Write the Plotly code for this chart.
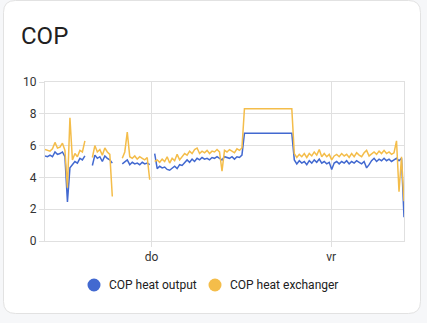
import pandas as pd
import plotly.graph_objects as go

# --- data: COP readings, one sample every 20 minutes (None = no data) ---
START = "2024-01-03 09:45"

cop_heat_output = [
    5.35, 5.3, 5.4, 5.3, 5.6, 5.45, 5.5, 5.6, 5.3, 2.45, 4.6, 4.8, 5.0, 4.9, 5.2, 5.1, 5.35,
    None, None,
    4.75, 5.4, 5.2, 5.3, 5.0, 5.35, 5.2, 5.1, 4.9,
    None, None, None,
    4.85, 5.0, 5.1, 4.8, 4.95, 4.85, 4.9, 4.8, 4.95, 4.85, 4.9, 4.8,
    None,
    5.5, 4.55, 4.7, 4.6, 4.65, 4.5, 4.45, 4.6, 4.7, 4.55, 4.8, 4.75, 4.95, 5.1, 4.95, 5.15,
    5.0, 5.2, 5.1, 5.25, 5.15, 5.2, 5.1, 5.25, 5.2, 5.3, 5.2, 5.1, 5.3, 5.25, 5.2, 5.3,
    5.15, 5.3, 5.25, 5.4,
    6.77, 6.77, 6.77, 6.77, 6.77, 6.77, 6.77, 6.77, 6.77, 6.77,
    6.77, 6.77, 6.77, 6.77, 6.77, 6.77, 6.77, 6.77, 6.77, 6.77,
    5.1, 4.85, 5.05, 4.9, 5.0, 4.8, 5.05, 4.9, 5.1, 4.95, 5.15, 4.9, 5.0, 4.85, 4.95, 4.5,
    4.9, 5.0, 4.85, 5.0, 4.9, 5.05, 4.85, 5.0, 4.9, 5.05, 4.95, 4.85, 5.0, 4.6, 4.8, 5.05,
    5.2, 5.0, 5.15, 5.05, 5.2, 5.05, 5.15, 5.0, 5.1, 5.2, 5.05, 5.2, 1.5,
]

cop_heat_exchanger = [
    5.75, 5.7, 5.65, 5.8, 6.2, 5.85, 5.9, 6.15, 5.7, 3.35, 7.75, 5.1, 5.5, 5.3, 5.7, 5.6, 6.3,
    None, None,
    5.25, 6.0, 5.6, 5.75, 5.4, 5.85, 5.6, 5.45, 2.8,
    None, None, None,
    5.2, 5.6, 6.85, 5.3, 5.2, 5.35, 5.15, 5.3, 5.2, 5.1, 5.25, 3.85,
    None,
    5.0, 5.1, 4.95, 5.15, 5.0, 5.3, 4.9, 5.2, 5.05, 5.45, 5.1, 5.3, 5.5, 5.4, 5.65, 5.5,
    5.75, 5.85, 5.5, 5.65, 5.55, 5.7, 5.5, 5.65, 5.6, 5.75, 5.6, 4.4, 5.7, 5.6, 5.75, 5.65,
    5.55, 5.8, 5.7, 5.85,
    8.32, 8.32, 8.32, 8.32, 8.32, 8.32, 8.32, 8.32, 8.32, 8.32,
    8.32, 8.32, 8.32, 8.32, 8.32, 8.32, 8.32, 8.32, 8.32, 8.32,
    5.5, 5.25, 5.45, 5.3, 5.5, 5.25, 5.5, 5.35, 5.6, 5.4, 5.75, 5.3, 5.5, 5.3, 5.45, 5.1,
    5.35, 5.45, 5.3, 5.5, 5.35, 5.45, 5.25, 5.5, 5.3, 5.55, 5.4, 5.3, 5.55, 5.7, 5.35, 5.5,
    5.6, 5.45, 5.65, 5.5, 5.7, 5.5, 5.6, 5.45, 5.55, 6.3, 3.1, 5.3, 2.5,
]

series_names = ["COP heat output", "COP heat exchanger"]
series_colors = ["#4269d0", "#f4bd4a"]

tick_dates = ["2024-01-04", "2024-01-05"]
tick_labels = ["do", "vr"]
y_ticks = [0, 2, 4, 6, 8, 10]

times = pd.date_range(START, periods=len(cop_heat_output), freq="20min")

# --- figure geometry (pixels) ---
W, H = 427, 323
ML, MR, MT, MB = 45, 23, 82, 82
PW, PH = W - ML - MR, H - MT - MB


def px_x(x):
    return (x - ML) / PW


def px_y(y):
    return (H - MB - y) / PH


fig = go.Figure()

for vals, name, color in zip([cop_heat_output, cop_heat_exchanger], series_names, series_colors):
    fig.add_trace(go.Scatter(
        x=times, y=vals, mode="lines", name=name,
        line=dict(color=color, width=1.5),
        connectgaps=False, showlegend=False, hoverinfo="skip",
    ))

# rounded card behind the chart
x0, x1 = 3.5, 420.5
y0, y1 = 0.5, 313.5
r = 12
pts = [
    ("M", x0 + r, y0), ("L", x1 - r, y0), ("Q", x1, y0, x1, y0 + r),
    ("L", x1, y1 - r), ("Q", x1, y1, x1 - r, y1),
    ("L", x0 + r, y1), ("Q", x0, y1, x0, y1 - r),
    ("L", x0, y0 + r), ("Q", x0, y0, x0 + r, y0),
]
path = ""
for p in pts:
    cmd, coords = p[0], p[1:]
    pairs = [f"{px_x(coords[i]):.5f},{px_y(coords[i + 1]):.5f}" for i in range(0, len(coords), 2)]
    path += cmd + " " + " ".join(pairs) + " "
path += "Z"

fig.add_shape(type="path", path=path, xref="paper", yref="paper",
              fillcolor="white", line=dict(color="#e2e2e2", width=1), layer="below")

fig.add_annotation(
    text="COP", x=px_x(19), y=px_y(36.5), xref="paper", yref="paper",
    xanchor="left", yanchor="middle", showarrow=False,
    font=dict(family="Roboto", size=24, color="#212121"),
)

# legend: round dot followed by the series name
legend_dot_x = [94, 215]
legend_y = 285
dot_r = 6.5
for cx, name, color in zip(legend_dot_x, series_names, series_colors):
    fig.add_shape(
        type="circle", xref="paper", yref="paper",
        x0=px_x(cx - dot_r), x1=px_x(cx + dot_r),
        y0=px_y(legend_y + dot_r), y1=px_y(legend_y - dot_r),
        fillcolor=color, line=dict(width=0),
    )
    fig.add_annotation(
        text=name, x=px_x(cx + 13), y=px_y(legend_y - 0.5), xref="paper", yref="paper",
        xanchor="left", yanchor="middle", showarrow=False,
        font=dict(family="Roboto", size=12, color="#212121"),
    )

grid = "#e0e0e0"
fig.update_layout(
    width=W, height=H,
    margin=dict(l=ML, r=MR, t=MT, b=MB, pad=0),
    paper_bgcolor="#f6f7f9",
    plot_bgcolor="white",
    font=dict(family="Roboto", size=12, color="#333333"),
    showlegend=False,
    xaxis=dict(
        range=[times[0], times[-1]],
        tickvals=pd.to_datetime(tick_dates), ticktext=tick_labels,
        showgrid=True, gridcolor=grid, gridwidth=1,
        ticks="outside", ticklen=5, tickcolor=grid,
        showline=True, linecolor=grid, mirror=True,
        zeroline=False, tickfont=dict(size=12, color="#333333"),
    ),
    yaxis=dict(
        range=[0, 10], tickvals=y_ticks,
        showgrid=True, gridcolor=grid, gridwidth=1,
        ticks="outside", ticklen=5, tickcolor=grid,
        showline=True, linecolor=grid, mirror=True,
        zeroline=False, tickfont=dict(size=12, color="#333333"),
    ),
    hovermode=False,
)

fig.write_html("out.html", config={"displayModeBar": False})
